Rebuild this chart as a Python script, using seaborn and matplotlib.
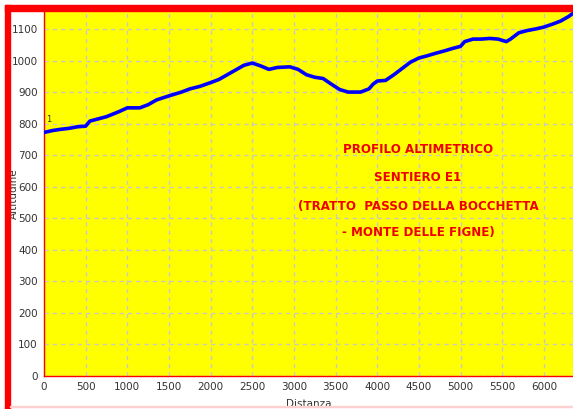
import numpy as np
import pandas as pd
import matplotlib
matplotlib.use('Agg')
import matplotlib.pyplot as plt
from matplotlib.patches import Rectangle
import seaborn as sns

# elevation profile
distanza = [0, 100, 200, 300, 400, 500, 550, 650, 750, 900, 1000, 1150, 1250,
            1350, 1500, 1650, 1750, 1870, 2000, 2100, 2200, 2300, 2400, 2500,
            2600, 2700, 2800, 2950, 3050, 3150, 3250, 3350, 3450, 3550, 3650,
            3800, 3900, 3950, 4000, 4100, 4200, 4300, 4400, 4500, 4600, 4700,
            4800, 4900, 5000, 5050, 5150, 5250, 5350, 5450, 5550, 5600, 5700,
            5800, 5900, 6000, 6100, 6200, 6300, 6350]
altitudine = [772, 778, 782, 785, 790, 792, 808, 815, 822, 838, 850, 850, 860,
              875, 888, 900, 910, 918, 930, 940, 955, 970, 985, 992, 983, 972,
              978, 980, 972, 955, 947, 943, 925, 908, 900, 900, 910, 925, 935,
              937, 955, 975, 995, 1008, 1015, 1023, 1030, 1038, 1045, 1060,
              1068, 1068, 1070, 1068, 1060, 1068, 1088, 1095, 1100, 1106, 1115,
              1125, 1140, 1150]

x_ticks = list(range(0, 6001, 500))
y_ticks = list(range(0, 1101, 100))

titolo = ["PROFILO ALTIMETRICO", "SENTIERO E1",
          "(TRATTO  PASSO DELLA BOCCHETTA", "- MONTE DELLE FIGNE)"]

df = pd.DataFrame({'Distanza': distanza, 'Altitudine': altitudine})

sns.set_style('white')
plt.rcParams['font.family'] = ['Liberation Sans Narrow', 'DejaVu Sans']

W, H = 573, 409
fig = plt.figure(figsize=(W / 100, H / 100), dpi=100)
fig.patch.set_facecolor('white')
ax = fig.add_axes([44 / W, 1 - 376 / H, 1 - 44 / W, (376 - 11) / H])
ax.set_facecolor('#ffff00')

sns.lineplot(data=df, x='Distanza', y='Altitudine', ax=ax, color='#0000ff',
             linewidth=2.6, zorder=3)

ax.set_xlim(0, 6350)
ax.set_ylim(0, 1157)
ax.set_xticks(x_ticks)
ax.set_yticks(y_ticks)
ax.grid(True, linestyle=(0, (3, 3)), color='#c8c8c8', linewidth=1)
ax.tick_params(axis='both', labelsize=7.5, colors='#333333', length=3,
               width=0.8, direction='out', pad=1.5)
for s in ['top', 'right']:
    ax.spines[s].set_visible(False)
for s in ['left', 'bottom']:
    ax.spines[s].set_color('red')
    ax.spines[s].set_linewidth(1)

ax.set_xlabel('Distanza', fontsize=7.5, color='#333333')
ax.set_ylabel('Altitudine', fontsize=7.5, color='#333333')
ax.xaxis.set_label_coords(0.5, -0.062)
ax.yaxis.set_label_coords(-0.048, 0.5)

ax.text(20, 800, '1', fontsize=6, color='#333333', va='bottom')

ys = [0.62, 0.545, 0.465, 0.393]
for txt, yy in zip(titolo, ys):
    ax.text(0.707, yy, txt, transform=ax.transAxes, ha='center', va='center',
            fontsize=8.6, fontweight='bold', color='#ee0000',
            family=['Liberation Sans Narrow', 'DejaVu Sans'])

# red window frame
fig.patches.append(Rectangle((5 / W, 1 - 11 / H), 1 - 5 / W, 6 / H,
                             transform=fig.transFigure, color='red', zorder=5))
fig.patches.append(Rectangle((5 / W, 0), 5 / W, 1 - 5 / H,
                             transform=fig.transFigure, color='red', zorder=5))
fig.patches.append(Rectangle((10 / W, 1 - 407 / H), 1 - 10 / W, 1 / H,
                             transform=fig.transFigure, color='#ffd0d0', zorder=5))

fig.savefig('out.png', dpi=100)
